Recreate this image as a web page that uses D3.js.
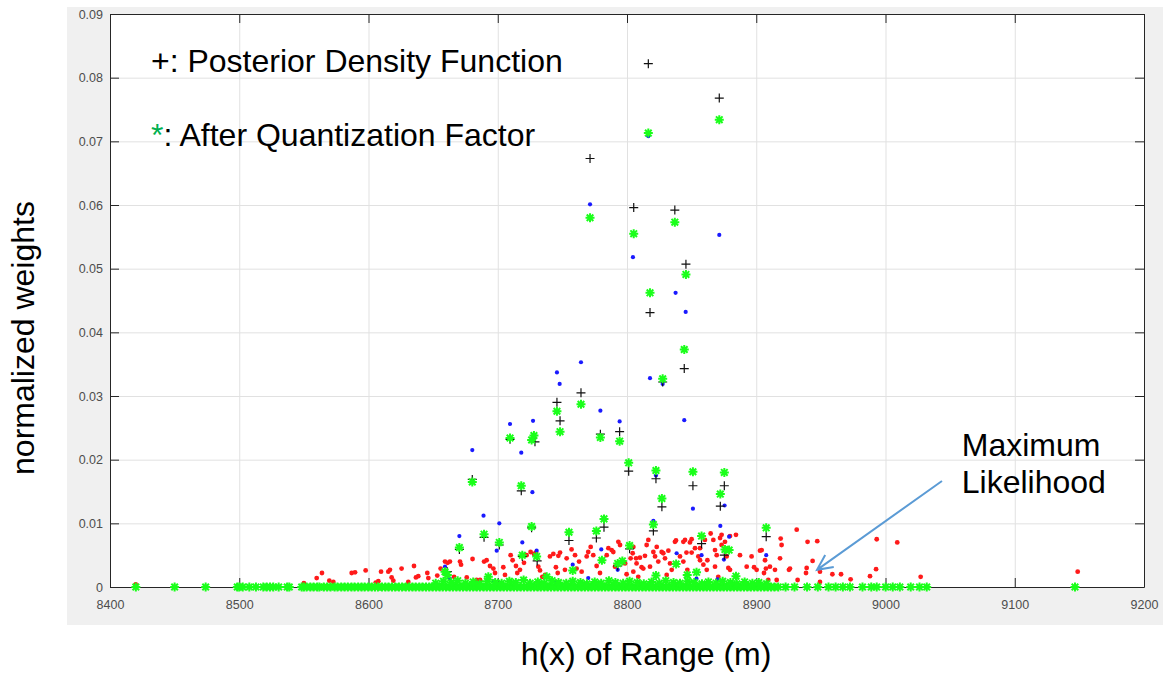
<!DOCTYPE html>
<html>
<head>
<meta charset="utf-8">
<script src="https://cdn.jsdelivr.net/npm/d3@7"></script>
<style>
  body { margin: 0; background: #fff; }
  text { font-family: "Liberation Sans", Arial, sans-serif; }
</style>
</head>
<body>
<div id="chart-area"></div>
<script>
// axis ticks
var xTicks = [8400, 8500, 8600, 8700, 8800, 8900, 9000, 9100, 9200];
var yTicks = [0, 0.01, 0.02, 0.03, 0.04, 0.05, 0.06, 0.07, 0.08, 0.09];

// black "+" : posterior density function
var pdfPts = [
  [8816.5, 0.0822], [8871.4, 0.0768], [8771.4, 0.0673], [8805.2, 0.0596], [8837.0, 0.0592],
  [8845.6, 0.0507], [8817.8, 0.0431], [8844.3, 0.0343], [8827.6, 0.0322], [8764.4, 0.0305],
  [8745.8, 0.0290], [8748.2, 0.0261], [8794.3, 0.0244], [8779.4, 0.0240], [8709.5, 0.0232],
  [8728.8, 0.0228], [8801.3, 0.0182], [8680.3, 0.0169], [8822.4, 0.0170], [8851.0, 0.0159],
  [8875.3, 0.0159], [8718.2, 0.0151], [8827.0, 0.0126], [8872.2, 0.0127], [8726.2, 0.0093],
  [8782.2, 0.0094], [8820.4, 0.0088], [8689.4, 0.0078], [8907.7, 0.0079], [8776.3, 0.0077],
  [8755.1, 0.0073], [8857.7, 0.0068], [8701.2, 0.0066], [8802.0, 0.0060], [8670.3, 0.0059],
  [8875.3, 0.0050], [8719.0, 0.0048], [8792.8, 0.0033], [8661.0, 0.0024], [8730.5, 0.0041]
];

// green "*" : after quantization factor
var quantPts = [
  [8816.5, 0.0713], [8871.4, 0.0734], [8771.4, 0.0580], [8805.2, 0.0555], [8837.0, 0.0573],
  [8845.6, 0.0491], [8817.8, 0.0462], [8844.3, 0.0373], [8827.6, 0.0327], [8764.4, 0.0287],
  [8745.8, 0.0276], [8748.2, 0.0244], [8794.3, 0.0229], [8779.4, 0.0235], [8709.5, 0.0234],
  [8728.0, 0.0238], [8726.2, 0.0231], [8801.3, 0.0195], [8822.4, 0.0183], [8851.0, 0.0181],
  [8875.3, 0.0180], [8680.3, 0.0165], [8718.2, 0.0159], [8872.2, 0.0146], [8827.0, 0.0139],
  [8782.2, 0.0107], [8820.4, 0.0098], [8726.2, 0.0095], [8907.7, 0.0093], [8776.3, 0.0088],
  [8755.1, 0.0086], [8689.4, 0.0083], [8857.7, 0.0080], [8701.2, 0.0070], [8802.0, 0.0065],
  [8670.3, 0.0062], [8875.8, 0.0059], [8879.0, 0.0058], [8719.0, 0.0050], [8730.1, 0.0048],
  [8780.6, 0.0042], [8796.4, 0.0041], [8792.8, 0.0037], [8838.0, 0.0036], [8659.2, 0.0024],
  [8661.0, 0.0019], [8758.0, 0.0026], [8692.7, 0.0016], [8737.9, 0.0016], [8822.4, 0.0018],
  [8846.6, 0.0019], [8853.8, 0.0023], [8884.3, 0.0017]
];

// blue dots
var bluePts = [
  [8816.5, 0.0708], [8771.4, 0.0601], [8804.6, 0.0518], [8871.4, 0.0553], [8837.6, 0.0462],
  [8845.4, 0.0432], [8817.8, 0.0328], [8827.6, 0.0319], [8844.3, 0.0262], [8764.4, 0.0353],
  [8745.8, 0.0337], [8747.9, 0.0319], [8779.4, 0.0277], [8794.3, 0.0260], [8709.5, 0.0256],
  [8727.3, 0.0261], [8718.2, 0.0211], [8680.3, 0.0215], [8822.4, 0.0175], [8726.8, 0.0149],
  [8875.5, 0.0128], [8851.0, 0.0123], [8689.0, 0.0112], [8820.4, 0.0104], [8701.2, 0.0100],
  [8872.2, 0.0096], [8670.3, 0.0080], [8879.0, 0.0079], [8780.1, 0.0059], [8699.2, 0.0057],
  [8730.1, 0.0057], [8719.0, 0.0070], [8838.4, 0.0053], [8857.7, 0.0050], [8907.7, 0.0050],
  [8758.0, 0.0035], [8792.8, 0.0027], [8659.2, 0.0032], [8875.0, 0.0043], [8853.8, 0.0013],
  [8663.0, 0.0013], [8697.0, 0.0009], [8745.0, 0.0008], [8770.0, 0.0014], [8830.0, 0.0010],
  [8870.0, 0.0012]
];

// red dots
var redPts = [
  [8419.9, 0.0004], [8550.0, 0.0006], [8559.9, 0.0014], [8564.0, 0.0022], [8569.7, 0.0010],
  [8572.8, 0.0008], [8587.0, 0.0022], [8589.6, 0.0023], [8597.8, 0.0026], [8605.6, 0.0007],
  [8607.6, 0.0009], [8609.7, 0.0024], [8615.3, 0.0024], [8616.6, 0.0027], [8617.9, 0.0015],
  [8619.2, 0.0010], [8625.6, 0.0029], [8630.8, 0.0008], [8635.2, 0.0033], [8636.7, 0.0015],
  [8638.5, 0.0017], [8645.5, 0.0022], [8646.3, 0.0014], [8653.2, 0.0018], [8655.8, 0.0029],
  [8659.2, 0.0040], [8661.2, 0.0038], [8663.0, 0.0040], [8666.2, 0.0016], [8670.8, 0.0040],
  [8671.6, 0.0035], [8676.0, 0.0015], [8680.5, 0.0044], [8683.6, 0.0011], [8686.3, 0.0011],
  [8689.4, 0.0040], [8691.4, 0.0042], [8694.0, 0.0033], [8696.6, 0.0029], [8697.9, 0.0022],
  [8704.3, 0.0031], [8705.6, 0.0019], [8710.0, 0.0050], [8711.5, 0.0042], [8714.1, 0.0033],
  [8715.1, 0.0022], [8717.2, 0.0027], [8720.3, 0.0038], [8722.3, 0.0050], [8725.4, 0.0055],
  [8728.0, 0.0052], [8729.6, 0.0054], [8731.4, 0.0032], [8732.7, 0.0026], [8734.5, 0.0016],
  [8736.6, 0.0019], [8740.4, 0.0048], [8743.0, 0.0052], [8745.0, 0.0031], [8746.4, 0.0022],
  [8746.9, 0.0049], [8748.2, 0.0054], [8752.0, 0.0027], [8753.3, 0.0045], [8757.1, 0.0059],
  [8759.8, 0.0050], [8761.0, 0.0029], [8762.9, 0.0040], [8764.9, 0.0024], [8768.8, 0.0048],
  [8770.0, 0.0055], [8771.9, 0.0063], [8773.9, 0.0050], [8776.5, 0.0033], [8779.1, 0.0022],
  [8784.3, 0.0050], [8785.6, 0.0061], [8788.1, 0.0058], [8789.4, 0.0055], [8790.7, 0.0032],
  [8793.3, 0.0071], [8794.6, 0.0066], [8798.5, 0.0037], [8799.7, 0.0020], [8802.8, 0.0045],
  [8804.9, 0.0024], [8804.9, 0.0063], [8804.4, 0.0053], [8807.0, 0.0045], [8807.4, 0.0037],
  [8808.7, 0.0016], [8810.0, 0.0046], [8811.3, 0.0031], [8812.6, 0.0029], [8813.9, 0.0049],
  [8815.2, 0.0066], [8816.5, 0.0074], [8817.8, 0.0032], [8820.4, 0.0055], [8821.7, 0.0048],
  [8823.0, 0.0063], [8824.2, 0.0040], [8826.8, 0.0055], [8828.1, 0.0053], [8829.4, 0.0045],
  [8830.7, 0.0019], [8832.0, 0.0057], [8833.3, 0.0037], [8834.6, 0.0027], [8837.1, 0.0071],
  [8837.9, 0.0073], [8841.0, 0.0048], [8843.6, 0.0040], [8843.6, 0.0071], [8844.9, 0.0074],
  [8846.7, 0.0027], [8846.0, 0.0054], [8848.7, 0.0070], [8850.0, 0.0054], [8850.0, 0.0075],
  [8852.6, 0.0061], [8855.2, 0.0048], [8856.5, 0.0042], [8856.5, 0.0061], [8859.1, 0.0035],
  [8860.3, 0.0074], [8861.7, 0.0027], [8862.2, 0.0042], [8864.7, 0.0084], [8866.8, 0.0074],
  [8868.1, 0.0058], [8869.4, 0.0050], [8868.1, 0.0032], [8870.6, 0.0016], [8872.0, 0.0077],
  [8873.2, 0.0082], [8873.2, 0.0066], [8875.8, 0.0071], [8877.1, 0.0048], [8878.4, 0.0030],
  [8879.7, 0.0080], [8879.7, 0.0027], [8884.3, 0.0082], [8887.4, 0.0050], [8892.6, 0.0032],
  [8896.4, 0.0048], [8898.3, 0.0031], [8900.3, 0.0027], [8902.9, 0.0057], [8904.2, 0.0058],
  [8906.0, 0.0022], [8906.8, 0.0042], [8907.5, 0.0029], [8909.3, 0.0011], [8910.6, 0.0032],
  [8914.5, 0.0027], [8915.8, 0.0011], [8918.4, 0.0045], [8918.9, 0.0076], [8919.6, 0.0066],
  [8925.3, 0.0027], [8926.1, 0.0029], [8931.3, 0.0090], [8932.0, 0.0011], [8938.5, 0.0022],
  [8939.0, 0.0030], [8939.7, 0.0071], [8943.6, 0.0041], [8947.2, 0.0072], [8949.3, 0.0024],
  [8949.3, 0.0008], [8958.9, 0.0020], [8965.6, 0.0020], [8973.0, 0.0012], [8988.0, 0.0017],
  [8992.7, 0.0028], [8993.2, 0.0075], [9009.1, 0.0070], [9027.2, 0.0016], [9148.7, 0.0024]
];

// green "*" lying on the zero line
var baseStarX = [
  8420, 8450, 8474, 8498.5, 8500, 8502.7, 8507.8, 8512.9, 8518.6, 8521.2, 8523.8, 8526.3,
  8530.5, 8537.1, 8538.7, 8548.3, 8550, 8552.1, 8555, 8557.5, 8560.3, 8562, 8565.4, 8568,
  8570.6, 8573.8, 8576, 8578.9, 8581.5, 8584, 8586.8, 8589.2, 8592, 8594.6, 8597, 8599.8,
  8602.5, 8605, 8607.3, 8610.4, 8613, 8615.5, 8618.2, 8620.7, 8623.5, 8626, 8628.8, 8631.4,
  8634, 8636.5, 8639.3, 8641.8, 8644.5, 8647, 8649.6, 8652.3, 8655, 8657.4, 8660, 8662.8,
  8665.3, 8668, 8670.6, 8673.1, 8675.9, 8678.4, 8681, 8683.7, 8686.2, 8689, 8691.5, 8694.1,
  8696.8, 8699.3, 8702, 8704.6, 8707.2, 8709.8, 8712.5, 8715, 8717.7, 8720.3, 8722.9, 8725.5,
  8728.1, 8730.8, 8733.3, 8736, 8738.6, 8741.2, 8743.8, 8746.4, 8749, 8751.7, 8754.3, 8756.9,
  8759.5, 8762.1, 8764.8, 8767.4, 8770, 8772.6, 8775.2, 8777.9, 8780.5, 8783.1, 8785.7, 8788.3,
  8791, 8793.6, 8796.2, 8798.8, 8801.4, 8804.1, 8806.7, 8809.3, 8811.9, 8814.5, 8817.2, 8819.8,
  8822.4, 8825, 8827.6, 8830.3, 8832.9, 8835.5, 8838.1, 8840.7, 8843.4, 8846, 8848.6, 8851.2,
  8853.8, 8856.5, 8859.1, 8861.7, 8864.3, 8866.9, 8869.6, 8872.2, 8874.8, 8877.4, 8880, 8882.7,
  8885.3, 8887.9, 8890.5, 8893.1, 8895.8, 8898.4, 8901, 8903.6, 8906.2, 8908.9, 8911.5, 8914.1,
  8917, 8922.7, 8929.6, 8939.3, 8947.6, 8955.9, 8961.4, 8967, 8972.5, 8982.2, 8989, 8993.2,
  9000.1, 9005.6, 9011.1, 9019.5, 9026.3, 9031.9, 9146.6
];

// green "*" just above the zero line (thick part of the band)
var lowStarPts = [
  [8652, 0.0006], [8658, 0.0009], [8664, 0.0007], [8669, 0.0010], [8675, 0.0006], [8681, 0.0008],
  [8686, 0.0005], [8692, 0.0009], [8698, 0.0007], [8703, 0.0006], [8709, 0.0009], [8714, 0.0007],
  [8720, 0.0011], [8725, 0.0006], [8731, 0.0008], [8736, 0.0006], [8742, 0.0010], [8747, 0.0007],
  [8753, 0.0006], [8758, 0.0009], [8764, 0.0007], [8769, 0.0005], [8775, 0.0008], [8780, 0.0006],
  [8786, 0.0010], [8791, 0.0007], [8797, 0.0006], [8802, 0.0009], [8808, 0.0007], [8813, 0.0005],
  [8819, 0.0008], [8825, 0.0006], [8830, 0.0010], [8836, 0.0007], [8841, 0.0006], [8847, 0.0009],
  [8852, 0.0007], [8858, 0.0005], [8863, 0.0008], [8869, 0.0006], [8874, 0.0009], [8880, 0.0007],
  [8885, 0.0005], [8891, 0.0008], [8897, 0.0006], [8902, 0.0007], [8908, 0.0005]
];

// annotation: arrow start and tip (data units)
var mlArrow = [[9043.7, 0.01665], [8947, 0.0027]];

var width = 1163, height = 673;
var plot = {left: 110, right: 1144, top: 14, bottom: 587};

var svg = d3.select("#chart-area")
  .append("svg")
    .attr("width", width)
    .attr("height", height);

// grey figure panel
svg.append("rect")
  .attr("x", 67).attr("y", 7)
  .attr("width", width - 67).attr("height", 618)
  .attr("fill", "#f0f0f0");

svg.append("rect")
  .attr("x", plot.left).attr("y", plot.top)
  .attr("width", plot.right - plot.left).attr("height", plot.bottom - plot.top)
  .attr("fill", "#fff");

var x = d3.scaleLinear().domain([8400, 9200]).range([plot.left, plot.right]);
var y = d3.scaleLinear().domain([0, 0.09]).range([plot.bottom, plot.top]);

// grid
var grid = svg.append("g").attr("stroke", "#e1e1e1").attr("stroke-width", 1);
grid.selectAll(".gx").data(xTicks.slice(1, -1)).enter().append("line")
  .attr("x1", function(d) { return x(d) + 0.5; }).attr("x2", function(d) { return x(d) + 0.5; })
  .attr("y1", plot.top).attr("y2", plot.bottom);
grid.selectAll(".gy").data(yTicks.slice(1, -1)).enter().append("line")
  .attr("y1", function(d) { return y(d) + 0.5; }).attr("y2", function(d) { return y(d) + 0.5; })
  .attr("x1", plot.left).attr("x2", plot.right);

// axes (ticks pointing inward, box on all sides)
function styleAxis(g) {
  g.select(".domain").attr("stroke", "#262626");
  g.selectAll(".tick line").attr("stroke", "#262626");
  g.selectAll(".tick text")
    .attr("fill", "#4d4d4d")
    .attr("font-size", "12.5px")
    .attr("font-family", "'Liberation Sans', Arial, sans-serif");
}

var yFmt = function(d) { return d === 0 ? "0" : d3.format(".2f")(d); };

svg.append("g")
  .attr("transform", "translate(0," + plot.bottom + ")")
  .call(d3.axisBottom(x).tickValues(xTicks).tickSize(-9).tickSizeOuter(0).tickPadding(13).tickFormat(d3.format("d")))
  .call(styleAxis);
svg.append("g")
  .attr("transform", "translate(0," + plot.top + ")")
  .call(d3.axisTop(x).tickValues(xTicks).tickSize(-9).tickSizeOuter(0).tickFormat(""))
  .call(styleAxis);
svg.append("g")
  .attr("transform", "translate(" + plot.left + ",0)")
  .call(d3.axisLeft(y).tickValues(yTicks).tickSize(-9).tickSizeOuter(0).tickPadding(7).tickFormat(yFmt))
  .call(styleAxis);
svg.append("g")
  .attr("transform", "translate(" + plot.right + ",0)")
  .call(d3.axisRight(y).tickValues(yTicks).tickSize(-9).tickSizeOuter(0).tickFormat(""))
  .call(styleAxis);

// markers
var marks = svg.append("g");

marks.selectAll(".red").data(redPts).enter().append("circle")
  .attr("cx", function(d) { return x(d[0]); })
  .attr("cy", function(d) { return y(d[1]); })
  .attr("r", 2.4)
  .attr("fill", "#ff1a1a");

marks.selectAll(".blue").data(bluePts).enter().append("circle")
  .attr("cx", function(d) { return x(d[0]); })
  .attr("cy", function(d) { return y(d[1]); })
  .attr("r", 2.1)
  .attr("fill", "#1a1aff");

var plusPath = "M-4.5,0H4.5M0,-4.5V4.5";
var starPath = "M-4.5,0H4.5M0,-4.5V4.5M-3.3,-3.3L3.3,3.3M-3.3,3.3L3.3,-3.3";

marks.selectAll(".pdf").data(pdfPts).enter().append("path")
  .attr("d", plusPath)
  .attr("transform", function(d) { return "translate(" + x(d[0]) + "," + y(d[1]) + ")"; })
  .attr("stroke", "#111")
  .attr("stroke-width", 1.2)
  .attr("fill", "none");

var allStars = baseStarX.map(function(v) { return [v, 0]; })
  .concat(lowStarPts)
  .concat(quantPts);

marks.selectAll(".quant").data(allStars).enter().append("path")
  .attr("d", starPath)
  .attr("transform", function(d) { return "translate(" + x(d[0]) + "," + y(d[1]) + ")"; })
  .attr("stroke", "#1aff1a")
  .attr("stroke-width", 2)
  .attr("fill", "none");

// legend text
var font = "'Liberation Sans', Arial, sans-serif";
svg.append("text")
  .attr("x", 151).attr("y", 72)
  .attr("font-size", "32px").attr("font-family", font).attr("fill", "#000")
  .text("+: Posterior Density Function");

var l2 = svg.append("text")
  .attr("x", 151).attr("y", 146)
  .attr("font-size", "32px").attr("font-family", font).attr("fill", "#000");
l2.append("tspan").attr("fill", "#00b050").text("*");
l2.append("tspan").text(": After Quantization Factor");

// annotation
var ml = svg.append("text")
  .attr("x", x(9059)).attr("y", 456)
  .attr("font-size", "32px").attr("font-family", font).attr("fill", "#000");
ml.append("tspan").attr("x", x(9059)).text("Maximum");
ml.append("tspan").attr("x", x(9059)).attr("dy", 37).text("Likelihood");

var ax0 = x(mlArrow[0][0]), ay0 = y(mlArrow[0][1]);
var ax1 = x(mlArrow[1][0]), ay1 = y(mlArrow[1][1]);
var ang = Math.atan2(ay1 - ay0, ax1 - ax0);
var headLen = 17, headAng = 0.45;
svg.append("path")
  .attr("d", "M" + ax0 + "," + ay0 + "L" + ax1 + "," + ay1 +
    "M" + (ax1 - headLen * Math.cos(ang - headAng)) + "," + (ay1 - headLen * Math.sin(ang - headAng)) +
    "L" + ax1 + "," + ay1 +
    "L" + (ax1 - headLen * Math.cos(ang + headAng)) + "," + (ay1 - headLen * Math.sin(ang + headAng)))
  .attr("fill", "none")
  .attr("stroke", "#5b9bd5")
  .attr("stroke-width", 2);

// axis titles
svg.append("text")
  .attr("transform", "translate(34,338) rotate(-90)")
  .attr("text-anchor", "middle")
  .attr("font-size", "32px").attr("font-family", font).attr("fill", "#000")
  .text("normalized weights");

svg.append("text")
  .attr("x", 646).attr("y", 665)
  .attr("text-anchor", "middle")
  .attr("font-size", "32px").attr("font-family", font).attr("fill", "#000")
  .text("h(x) of Range (m)");
</script>
</body>
</html>
